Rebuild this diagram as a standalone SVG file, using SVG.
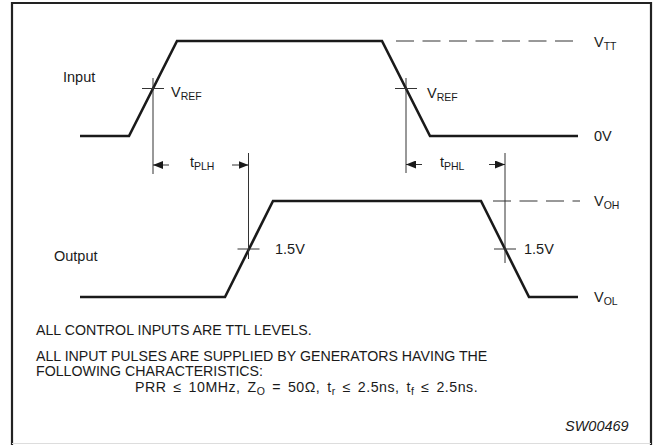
<svg xmlns="http://www.w3.org/2000/svg" width="654" height="445" viewBox="0 0 654 445">
<defs>
<style>
text{font-family:"Liberation Sans",Arial,sans-serif;font-size:14.5px;fill:#1a1a1a}
.sub{font-size:10.5px}
.note{font-size:14.2px}
.wave{fill:none;stroke:#1a1a1a;stroke-width:2.6;stroke-linejoin:miter}
.thin{fill:none;stroke:#333;stroke-width:1}
.dash{fill:none;stroke:#333;stroke-width:1;stroke-dasharray:18 8.5}
.frame{fill:none;stroke:#222;stroke-width:2.2}
</style>
<marker id="ah" viewBox="0 0 10 8" refX="10" refY="4" markerWidth="10" markerHeight="8" markerUnits="userSpaceOnUse" orient="auto">
<path d="M0,0 L10,4 L0,8 Z" fill="#1a1a1a"/>
</marker>
</defs>
<rect x="0" y="0" width="654" height="445" fill="#fff"/>
<path class="frame" d="M12,445 V3 H651 V445"/>
<line x1="12" y1="443.5" x2="651" y2="443.5" stroke="#ddd" stroke-width="1"/>

<g id="input">
<path class="wave" d="M80,136 H129 L177,41 H382 L430,136 H578"/>
<text x="63" y="82">Input</text>
</g>
<g id="output">
<path class="wave" d="M80,297 H225 L273,201 H481 L529,297 H578"/>
<text x="54" y="261">Output</text>
</g>

<g id="connectors">
<line class="dash" x1="396" y1="41" x2="576" y2="41"/>
<line class="dash" x1="493" y1="201" x2="580" y2="201"/>
<line class="thin" x1="153" y1="78" x2="153" y2="174"/>
<line class="thin" x1="142" y1="88.5" x2="164" y2="88.5"/>
<line class="thin" x1="406" y1="78" x2="406" y2="173"/>
<line class="thin" x1="395" y1="88.5" x2="417" y2="88.5"/>
<line class="thin" x1="248.5" y1="153" x2="248.5" y2="259"/>
<line class="thin" x1="237.5" y1="249" x2="259.5" y2="249"/>
<line class="thin" x1="505" y1="153" x2="505" y2="263"/>
<line class="thin" x1="494" y1="249" x2="516" y2="249"/>
<line class="thin" x1="169" y1="165" x2="153" y2="165" marker-end="url(#ah)"/>
<line class="thin" x1="232" y1="165" x2="248.5" y2="165" marker-end="url(#ah)"/>
<line class="thin" x1="422" y1="164.5" x2="406" y2="164.5" marker-end="url(#ah)"/>
<line class="thin" x1="489" y1="164.5" x2="505" y2="164.5" marker-end="url(#ah)"/>
</g>

<g id="labels">
<text x="171" y="97">V<tspan class="sub" dy="3">REF</tspan></text>
<text x="427" y="98">V<tspan class="sub" dy="3">REF</tspan></text>
<text x="190" y="167">t<tspan class="sub" dy="3">PLH</tspan></text>
<text x="440" y="167">t<tspan class="sub" dy="3">PHL</tspan></text>
<text x="275" y="254">1.5V</text>
<text x="524" y="254">1.5V</text>
<text x="594" y="47">V<tspan class="sub" dy="3">TT</tspan></text>
<text x="594" y="141">0V</text>
<text x="594" y="206">V<tspan class="sub" dy="3">OH</tspan></text>
<text x="594" y="302">V<tspan class="sub" dy="3">OL</tspan></text>
</g>

<g id="notes">
<text class="note" x="36" y="335">ALL CONTROL INPUTS ARE TTL LEVELS.</text>
<text class="note" x="36" y="361">ALL INPUT PULSES ARE SUPPLIED BY GENERATORS HAVING THE</text>
<text class="note" x="36" y="376">FOLLOWING CHARACTERISTICS:</text>
<text class="note" x="135" y="392" letter-spacing="0.5" word-spacing="2.5">PRR ≤ 10MHz, Z<tspan class="sub" dy="3">O</tspan><tspan dy="-3"> = 50Ω, t</tspan><tspan class="sub" dy="3">r</tspan><tspan dy="-3"> ≤ 2.5ns, t</tspan><tspan class="sub" dy="3">f</tspan><tspan dy="-3"> ≤ 2.5ns.</tspan></text>
<text x="565" y="431" font-size="15.5" font-style="italic">SW00469</text>
</g>
</svg>
